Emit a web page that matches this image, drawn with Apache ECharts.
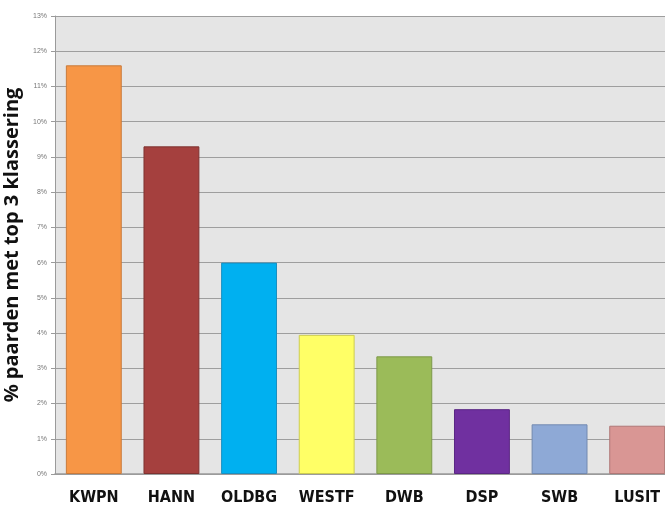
<!DOCTYPE html>
<html><head><meta charset="utf-8">
<script src="https://cdn.jsdelivr.net/npm/echarts@6/dist/echarts.min.js"></script>
<style>html,body{margin:0;padding:0;background:#fff;overflow:hidden;}#c{width:676px;height:510px;}</style>
</head><body><div id="c"></div>
<script>
var categories = ['KWPN','HANN','OLDBG','WESTF','DWB','DSP','SWB','LUSIT'];
var values = [11.6, 9.3, 6.0, 3.95, 3.34, 1.84, 1.41, 1.37];
var colors = ['#F79646','#A5403E','#00B0F0','#FFFF66','#9BBB59','#7030A0','#8EA9D6','#D99694'];
var borders = ['#c97a3a','#7e3230','#1a8fc0','#cccc50','#7d9848','#5a2683','#7289b0','#b07876'];
var yTicks = [0,1,2,3,4,5,6,7,8,9,10,11,12,13];

var chart = echarts.init(document.getElementById('c'));
chart.setOption({
  animation: false,
  backgroundColor: '#fff',
  grid: {left: 55, top: 16, bottom: 36, right: 0, backgroundColor: '#e5e5e5', show: true, borderWidth: 0, outerBoundsMode: 'none', containLabel: false},
  xAxis: {
    type: 'category', data: categories,
    axisLine: {lineStyle: {color: '#9a9a9a', width: 1.5}},
    axisTick: {show: false},
    axisLabel: {margin: 16, color: '#111', fontWeight: 'bold', fontSize: 16, fontFamily: 'DejaVu Sans Condensed'}
  },
  yAxis: {
    type: 'value', min: yTicks[0], max: yTicks[yTicks.length-1], interval: 1,
    name: '% paarden met top 3 klassering', nameLocation: 'middle', nameGap: 25,
    nameTextStyle: {fontSize: 20, fontWeight: 'bold', color: '#111', fontFamily: 'Open Sans'},
    axisLine: {show: true, lineStyle: {color: '#9a9a9a'}},
    axisTick: {show: true, length: 4, lineStyle: {color: '#9a9a9a'}},
    axisLabel: {formatter: '{value}%', fontSize: 7, color: '#777', margin: 8},
    splitLine: {lineStyle: {color: '#9e9e9e', width: 1.2}}
  },
  series: [{
    type: 'bar', barWidth: '72%',
    data: values.map(function(v,i){return {value: v, itemStyle: {color: colors[i], borderColor: borders[i], borderWidth: 1}};})
  }]
});
</script></body></html>
